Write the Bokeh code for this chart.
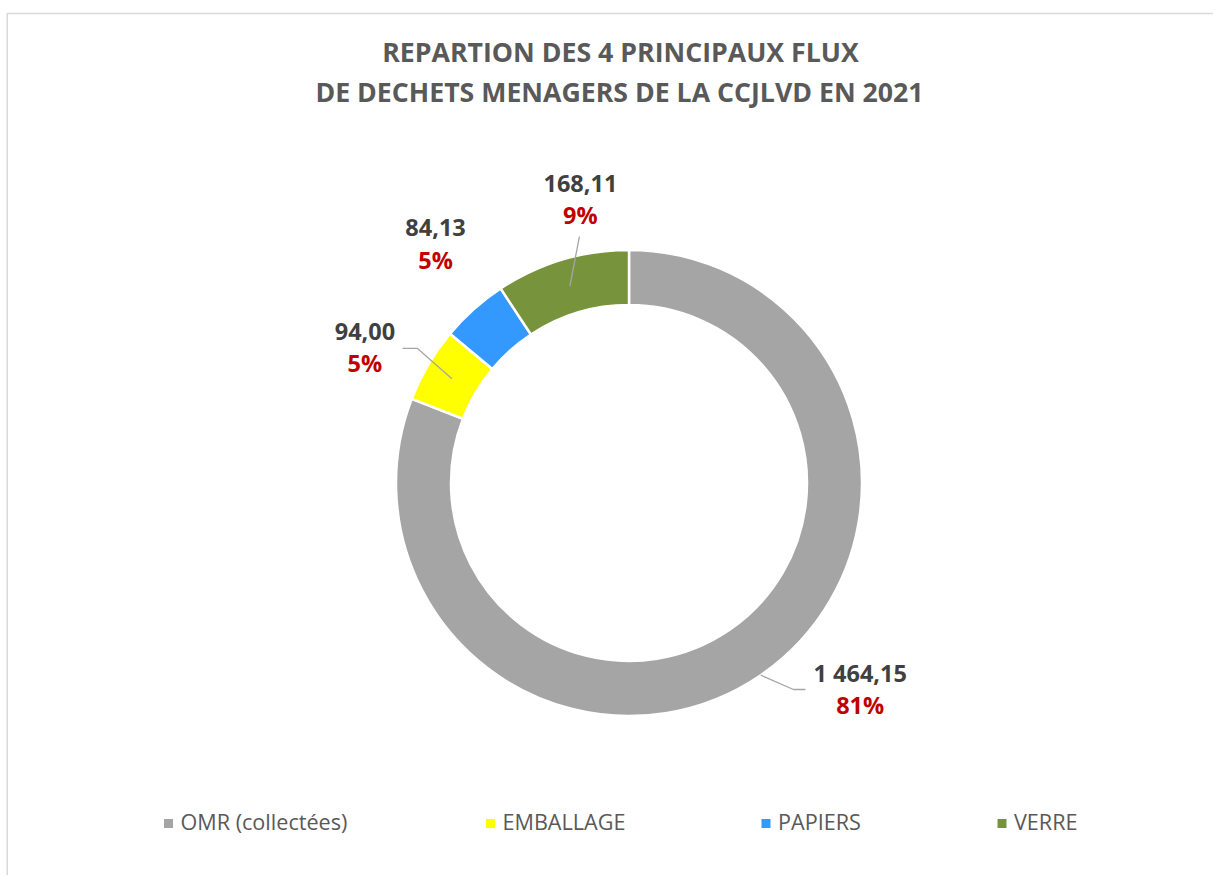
import math
from bokeh.plotting import figure
from bokeh.models import Range1d, ColumnDataSource
from bokeh.core.properties import value
from bokeh.embed import file_html
from bokeh.resources import INLINE

# ---------------- data ----------------
categories = ["OMR (collectées)", "EMBALLAGE", "PAPIERS", "VERRE"]
tonnages = [1464.15, 94.00, 84.13, 168.11]
colors = ["#A5A5A5", "#FFFF00", "#3399FF", "#77933C"]
title_lines = ["REPARTION DES 4 PRINCIPAUX FLUX",
               "DE DECHETS MENAGERS DE LA CCJLVD EN 2021"]

# ---------------- layout / style (screen pixels, y downwards) ----------------
W, H = 1213, 875
CX, CY = 628.5, 482.5
R_OUT, R_IN = 233, 178
R_MID = (R_OUT + R_IN) / 2
FONT = value("Open Sans")
# label block offsets relative to slice anchor (dx, dy of value centre, dy of pct centre)
label_off = [(115, 20, 52.5), (-87, -46.8, -15.3), (-56.5, -102.3, -69.8), (10.5, -103.1, -71.1)]
# leader lines: (start radius, list of offsets from start point)
leaders = [(R_OUT, [(32.7, 14.3), (44.7, 14.3)]),
           (R_MID, [(-34.4, -30.3), (-49.4, -30.3)]),
           None,
           (R_MID, [(9.5, -49.6)])]
legend_sq_x = [168, 490, 765.5, 1001.5]
legend_y = 823
legend_text_y = 821

p = figure(width=W, height=H, output_backend="svg", toolbar_location=None,
           x_range=Range1d(0, W), y_range=Range1d(-H, 0),
           x_axis_type=None, y_axis_type=None, min_border=0,
           outline_line_color=None, background_fill_color="white",
           border_fill_color="white")
p.grid.visible = False

# chart border (left & top visible in reference)
p.line(x=[6.7, 6.7, W + 5], y=[-(H + 5), -13, -13], line_color="#D9D9D9", line_width=1.5)

# title
p.text(x=[620, 619], y=[-51, -90.5], text=title_lines, text_font=FONT,
       text_font_style="bold", text_font_size="26.7px", text_color="#595959",
       text_align="center", text_baseline="middle")

# donut
total = sum(tonnages)
fracs = [v / total for v in tonnages]
starts, ends, mids = [], [], []
c = 0.0
for f in fracs:
    a0 = math.pi / 2 - 2 * math.pi * c
    a1 = math.pi / 2 - 2 * math.pi * (c + f)
    starts.append(a1)
    ends.append(a0)
    mids.append((a0 + a1) / 2)
    c += f

src = ColumnDataSource(dict(x=[CX] * 4, y=[-CY] * 4, start=starts, end=ends, color=colors))
p.annular_wedge(x="x", y="y", inner_radius=R_IN, outer_radius=R_OUT,
                inner_radius_units="screen", outer_radius_units="screen",
                start_angle="start", end_angle="end", fill_color="color",
                line_color="white", line_width=2.5, source=src)

# labels
def fmt_fr(v):
    s = f"{v:,.2f}"
    return s.replace(",", " ").replace(".", ",")

vx, vy, vt, px, py, pt = [], [], [], [], [], []
for i, v in enumerate(tonnages):
    ax = CX + R_MID * math.cos(mids[i])
    ay = CY - R_MID * math.sin(mids[i])
    dx, dyv, dyp = label_off[i]
    vx.append(ax + dx); vy.append(-(ay + dyv)); vt.append(fmt_fr(v))
    px.append(ax + dx); py.append(-(ay + dyp)); pt.append(f"{round(100 * v / total)}%")
    ld = leaders[i]
    if ld is not None:
        r0, pts = ld
        sx = CX + r0 * math.cos(mids[i])
        sy = CY - r0 * math.sin(mids[i])
        lx = [sx] + [sx + o[0] for o in pts]
        ly = [-sy] + [-(sy + o[1]) for o in pts]
        p.line(x=lx, y=ly, line_color="#A6A6A6", line_width=1.3)

p.text(x=vx, y=vy, text=vt, text_font=FONT, text_font_style="bold",
       text_font_size="23.5px", text_color="#404040", text_align="center",
       text_baseline="middle")
p.text(x=px, y=py, text=pt, text_font=FONT, text_font_style="bold",
       text_font_size="23.5px", text_color="#C00000", text_align="center",
       text_baseline="middle")

# legend
p.scatter(x=legend_sq_x, y=[-legend_y] * 4, marker="square", size=9,
          fill_color=colors, line_color=None)
p.text(x=[x + 12 for x in legend_sq_x], y=[-legend_text_y] * 4, text=categories,
       text_font=FONT, text_font_size="21.6px", text_color="#595959",
       text_align="left", text_baseline="middle")

open("out.html", "w").write(file_html(p, INLINE))
